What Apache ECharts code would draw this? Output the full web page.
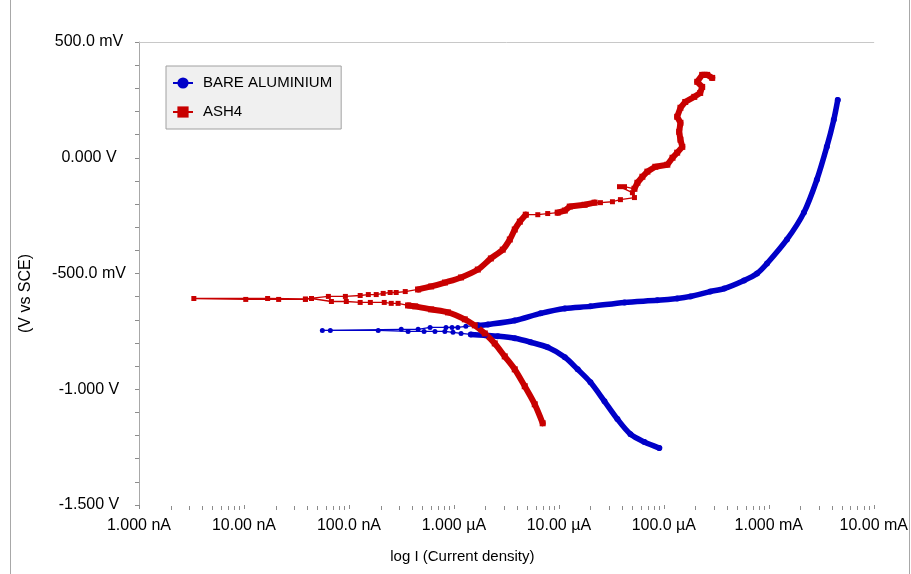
<!DOCTYPE html>
<html><head><meta charset="utf-8">
<script src="https://cdn.jsdelivr.net/npm/echarts@6/dist/echarts.min.js"></script>
<style>html,body{margin:0;padding:0;background:#fff}#chart{width:911px;height:574px}</style>
</head><body><div id="chart"></div>
<script>
// ---- tick labels ----
const xTickLabels = ['1.000 nA','10.00 nA','100.0 nA','1.000 µA','10.00 µA','100.0 µA','1.000 mA','10.00 mA'];
const yTickLabels = ['-1.500 V','-1.000 V','-500.0 mV','0.000 V','500.0 mV'];
const decades = [1e-9,1e-8,1e-7,1e-6,1e-5,1e-4,1e-3];
const minorMultipliers = [2,3,4,5,6,7,8,9];

// ---- BARE ALUMINIUM (current A, potential V) ----
const bareCathodicI = [9.06e-5,6.53e-5,4.81e-5,3.61e-5,2.72e-5,2.00e-5,1.51e-5,1.14e-5,7.83e-6,5.40e-6,3.80e-6,2.62e-6,1.97e-6,1.45e-6];
const bareCathodicE = [-1.254,-1.228,-1.194,-1.129,-1.052,-0.970,-0.914,-0.862,-0.819,-0.797,-0.780,-0.771,-0.767,-0.763];
const bareEcorrI = [1.45e-6,1.17e-6,9.8e-7,8.2e-7,6.6e-7,5.2e-7,3.66e-7,1.90e-7,6.65e-8,5.58e-8,3.15e-7,4.56e-7,5.93e-7,8.41e-7,9.6e-7,1.09e-6,1.30e-6,1.69e-6];
const bareEcorrE = [-0.763,-0.759,-0.754,-0.750,-0.750,-0.750,-0.750,-0.746,-0.746,-0.746,-0.741,-0.741,-0.733,-0.733,-0.733,-0.733,-0.728,-0.724];
const bareAnodicI = [1.69e-6,2.11e-6,3.80e-6,6.71e-6,1.14e-5,2.00e-5,4.22e-5,8.67e-5,1.34e-4,1.79e-4,2.77e-4,3.76e-4,5.81e-4,7.73e-4,9.62e-4,1.49e-3,2.16e-3,2.87e-3,3.57e-3,4.16e-3,4.54e-3];
const bareAnodicE = [-0.724,-0.720,-0.703,-0.672,-0.651,-0.642,-0.625,-0.616,-0.608,-0.599,-0.578,-0.565,-0.530,-0.500,-0.457,-0.353,-0.237,-0.095,0.047,0.164,0.250];

// ---- ASH4 (current A, potential V) ----
const ashCathodicI = [7.01e-6,5.89e-6,4.73e-6,3.80e-6,3.05e-6,2.45e-6,1.97e-6,1.58e-6,1.27e-6,8.79e-7,6.07e-7,4.28e-7,3.66e-7];
const ashCathodicE = [-1.147,-1.065,-0.987,-0.914,-0.858,-0.802,-0.759,-0.724,-0.698,-0.668,-0.655,-0.642,-0.638];
const ashEcorrI = [3.66e-7,2.94e-7,2.53e-7,2.17e-7,1.60e-7,1.28e-7,9.44e-8,6.81e-8,4.40e-8,3.85e-8,2.14e-8,1.04e-8,3.33e-9,1.68e-8,3.85e-8,6.37e-8,9.25e-8,1.28e-7,1.53e-7,1.82e-7,2.12e-7,2.47e-7,2.82e-7,3.44e-7,4.56e-7];
const ashEcorrE = [-0.638,-0.629,-0.629,-0.625,-0.625,-0.625,-0.621,-0.621,-0.608,-0.612,-0.612,-0.612,-0.608,-0.608,-0.610,-0.599,-0.599,-0.595,-0.591,-0.591,-0.586,-0.582,-0.582,-0.578,-0.569];
const ashAnodic1I = [4.56e-7,6.07e-7,8.22e-7,1.17e-6,1.69e-6,2.25e-6,2.92e-6,3.41e-6,3.80e-6,4.25e-6,4.84e-6];
const ashAnodic1E = [-0.569,-0.556,-0.539,-0.517,-0.483,-0.435,-0.397,-0.353,-0.310,-0.276,-0.246];
const ashGap1I = [4.84e-6,6.30e-6,7.83e-6,9.75e-6];
const ashGap1E = [-0.246,-0.246,-0.241,-0.237];
const ashAnodic2I = [9.75e-6,1.14e-5,1.27e-5,1.76e-5,2.19e-5];
const ashAnodic2E = [-0.237,-0.228,-0.211,-0.203,-0.194];
const ashGap2I = [2.19e-5,2.49e-5,3.24e-5,3.86e-5,5.25e-5,5.02e-5,3.78e-5,4.22e-5,5.25e-5];
const ashGap2E = [-0.194,-0.194,-0.190,-0.181,-0.172,-0.151,-0.125,-0.125,-0.134];
const ashAnodic3I = [5.25e-5,5.60e-5,6.25e-5,6.97e-5,8.29e-5,1.08e-4,1.21e-4,1.34e-4,1.50e-4,1.44e-4,1.40e-4,1.44e-4,1.34e-4,1.44e-4,1.60e-4,1.95e-4,2.22e-4,2.32e-4,2.08e-4,2.32e-4,2.59e-4,2.89e-4];
const ashAnodic3E = [-0.134,-0.108,-0.082,-0.060,-0.039,-0.030,0.000,0.022,0.047,0.078,0.112,0.151,0.177,0.216,0.241,0.263,0.280,0.306,0.328,0.358,0.358,0.345];

const BLUE = '#0000c8', RED = '#c80000';
const FONT = '"Liberation Sans", Arial, sans-serif';
const zip = (a, b) => a.map((v, i) => [v, b[i]]);

function sparse(name, color, symbol, I, E) {
  return { name, type: 'line', data: zip(I, E), symbol, symbolSize: 5,
    itemStyle: { color }, lineStyle: { color, width: 1.3 }, animation: false };
}
function dense(name, color, symbol, I, E, smooth, w) {
  return { name, type: 'line', data: zip(I, E), symbol, symbolSize: 6, smooth,
    itemStyle: { color }, lineStyle: { color, width: w, cap: 'round', join: 'round' }, animation: false };
}

const minorTickValues = [];
decades.forEach(d => minorMultipliers.forEach(m => minorTickValues.push([m * d, -1.5])));

const chart = echarts.init(document.getElementById('chart'), null, { renderer: 'canvas' });
chart.setOption({
  backgroundColor: '#ffffff',
  animation: false,
  grid: { left: 139, right: 34, top: 42, bottom: 69, containLabel: false },
  legend: {
    data: ['BARE ALUMINIUM', 'ASH4'],
    orient: 'vertical', left: 166, top: 66,
    padding: [8, 9, 8, 6], itemGap: 11, itemWidth: 20, itemHeight: 14,
    backgroundColor: '#f0f0f0', borderColor: '#a0a0a0', borderWidth: 1,
    textStyle: { fontFamily: FONT, fontSize: 15, color: '#000', lineHeight: 18, padding: [0, 0, 0, 5] }
  },
  xAxis: [{
    type: 'log', logBase: 10, min: 1e-9, max: 1e-2, splitNumber: 7,
    name: 'log I (Current density)', nameLocation: 'middle', nameGap: 44,
    nameTextStyle: { fontFamily: FONT, fontSize: 15, color: '#000', padding: [0, 88, 0, 0] },
    axisLine: { show: false, onZero: false },
    axisTick: { show: true, length: 4, lineStyle: { color: '#8c8c8c' } },
    minorTick: { show: false },
    splitLine: { show: false },
    axisLabel: { fontFamily: FONT, fontSize: 16, color: '#000', margin: 13, showMinLabel: true, showMaxLabel: true,
      formatter: v => xTickLabels[Math.round(Math.log10(v)) + 9] }
  }, {
    type: 'value', position: 'top', min: 0, max: 1,
    axisLine: { show: true, onZero: false, lineStyle: { color: '#c8c8c8' } },
    axisTick: { show: false }, axisLabel: { show: false }, splitLine: { show: false }
  }],
  yAxis: {
    type: 'value', min: -1.5, max: 0.5, interval: 0.5,
    name: '(V vs SCE)', nameLocation: 'middle', nameGap: 105, nameRotate: 90,
    nameTextStyle: { fontFamily: FONT, fontSize: 16, color: '#000', padding: [0, 40, 0, 0] },
    axisLine: { show: true, onZero: false, lineStyle: { color: '#a8a8a8' } },
    axisTick: { show: true, length: 4, lineStyle: { color: '#8c8c8c' } },
    minorTick: { show: true, splitNumber: 5, length: 4, lineStyle: { color: '#8c8c8c' } },
    splitLine: { show: false },
    axisLabel: { fontFamily: FONT, fontSize: 16, color: '#000', margin: 50, align: 'center',
      formatter: v => yTickLabels[Math.round((v + 1.5) / 0.5)] }
  },
  graphic: [
    { type: 'line', shape: { x1: 10.5, y1: 0, x2: 10.5, y2: 574 }, style: { stroke: '#a8a8a8', lineWidth: 1 } },
    { type: 'line', shape: { x1: 909.5, y1: 0, x2: 909.5, y2: 574 }, style: { stroke: '#a8a8a8', lineWidth: 1 } }
  ],
  series: [
    sparse('BARE ALUMINIUM', BLUE, 'circle', bareEcorrI, bareEcorrE),
    dense('BARE ALUMINIUM', BLUE, 'circle', bareCathodicI, bareCathodicE, 0.3, 5.5),
    dense('BARE ALUMINIUM', BLUE, 'circle', bareAnodicI, bareAnodicE, 0.3, 5.5),
    sparse('ASH4', RED, 'rect', ashEcorrI, ashEcorrE),
    dense('ASH4', RED, 'rect', ashCathodicI, ashCathodicE, 0.3, 6),
    dense('ASH4', RED, 'rect', ashAnodic1I, ashAnodic1E, 0.3, 6),
    sparse('ASH4', RED, 'rect', ashGap1I, ashGap1E),
    dense('ASH4', RED, 'rect', ashAnodic2I, ashAnodic2E, 0, 6),
    sparse('ASH4', RED, 'rect', ashGap2I, ashGap2E),
    dense('ASH4', RED, 'rect', ashAnodic3I, ashAnodic3E, 0, 6),
    {
      name: 'minor ticks', type: 'custom', silent: true, clip: false, data: minorTickValues,
      renderItem: (params, api) => {
        const p = api.coord([api.value(0), api.value(1)]);
        const x = Math.round(p[0]) + 0.5;
        return { type: 'line', shape: { x1: x, y1: p[1] + 1, x2: x, y2: p[1] + 5 },
          style: { stroke: '#8c8c8c', lineWidth: 1 } };
      }
    }
  ]
});
</script></body></html>
